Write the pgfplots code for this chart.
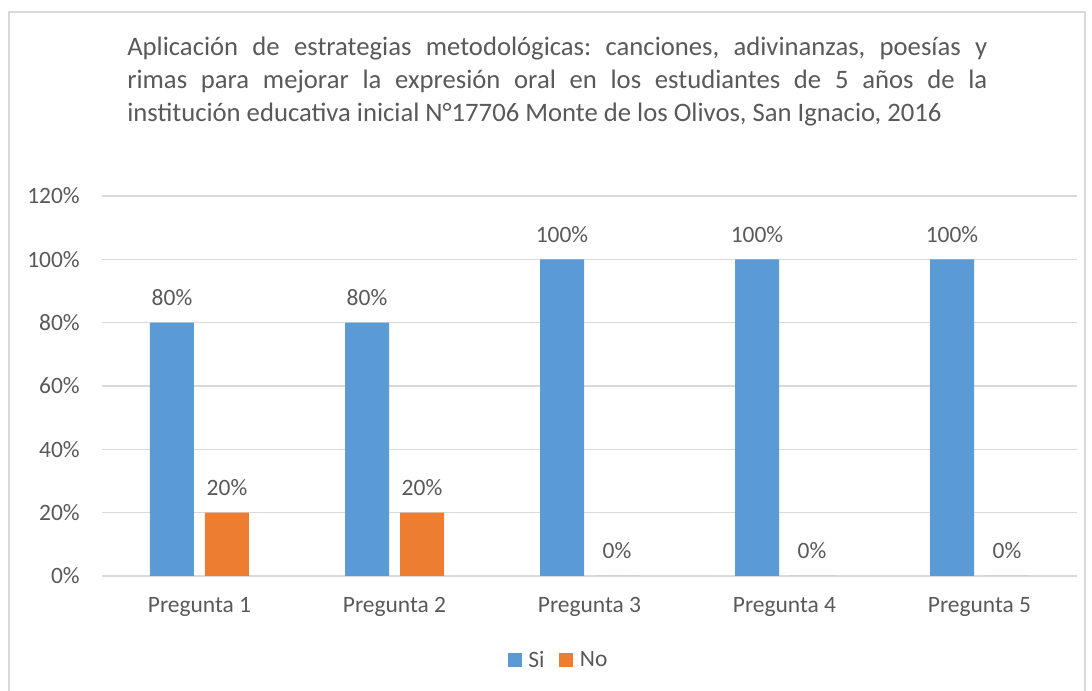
\documentclass[border=0pt]{standalone}
\usepackage{fontspec}
\setmainfont{Carlito}
\usepackage{pgfplots}
\pgfplotsset{compat=1.18}

\definecolor{siblue}{HTML}{5B9BD5}
\definecolor{noorange}{HTML}{ED7D31}
\definecolor{txt}{HTML}{595959}
\definecolor{gridc}{HTML}{D9D9D9}

\frenchspacing
\begin{document}
\begin{tikzpicture}
\useasboundingbox (-76.5pt,-86.25pt) rectangle (742.5pt,432pt);
\draw[gridc, line width=1pt] (-69.75pt,-95pt) rectangle (737.25pt,423pt);
\begin{axis}[
  at={(0pt,0pt)}, anchor=south west,
  scale only axis,
  width=731.25pt, height=285pt,
  ybar=8.25pt, bar width=33pt,
  xmin=-0.5, xmax=4.5,
  ymin=0, ymax=120,
  xtick=data,
  xticklabels={Pregunta 1, Pregunta 2, Pregunta 3, Pregunta 4, Pregunta 5},
  ytick={0,20,40,60,80,100,120},
  yticklabel={\pgfmathprintnumber{\tick}\%},
  /pgf/number format/assume math mode=true,
  major tick length=0pt,
  axis line style={draw=none},
  ymajorgrids, grid style={gridc, line width=1pt},
  tick label style={font=\fontsize{17.6}{21}\selectfont, text=txt},
  xticklabel style={anchor=north, inner sep=0pt, yshift=-16pt},
  yticklabel style={anchor=east, inner sep=0pt, xshift=-16.5pt},
  nodes near coords={\pgfmathprintnumber{\pgfplotspointmeta}\%},
  nodes near coords style={font=\fontsize{17.6}{21}\selectfont, text=txt, anchor=south, inner sep=0pt, yshift=12.5pt},
  legend columns=2,
  legend style={at={(0.4687,-0.221)}, anchor=center, draw=none, fill=none,
    font=\fontsize{17.6}{21}\selectfont, text=txt},
  legend image code/.code={\fill[#1, draw=none] (0pt,-5.25pt) rectangle (10.5pt,5.25pt);
    \path (10.5pt,0pt) -- (13.5pt,0pt);},
]
\addplot[fill=siblue, draw=none] coordinates {(0,80) (1,80) (2,100) (3,100) (4,100)};
\addplot[fill=noorange, draw=none] coordinates {(0,20) (1,20) (2,0) (3,0) (4,0)};
\legend{Si\hbox to 9pt{}, No}
\end{axis}
\begin{scope}[every node/.style={anchor=base west, inner sep=0pt, text=txt, font=\fontsize{20}{24}\selectfont}]
\node at (18.75pt,390pt) {\makebox[645pt][s]{Aplicación de estrategias metodológicas: canciones, adivinanzas, poesías y}};
\node at (18.75pt,365.25pt) {\makebox[645pt][s]{rimas para mejorar la expresión oral en los estudiantes de 5 años de la}};
\node at (18.75pt,340.5pt) {institución educativa inicial N°17706 Monte de los Olivos, San Ignacio, 2016};
\end{scope}
\end{tikzpicture}
\end{document}
